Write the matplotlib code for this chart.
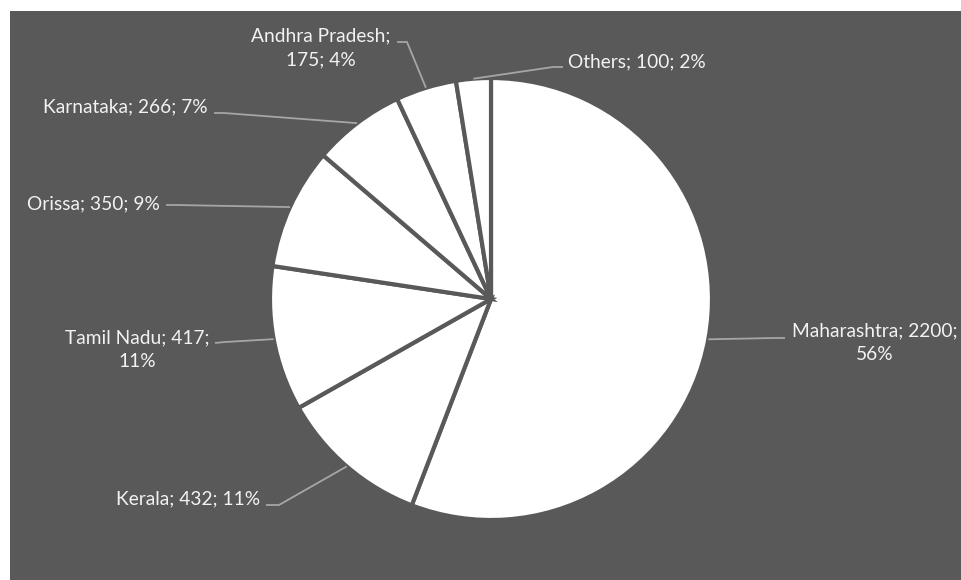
import numpy as np
import matplotlib.pyplot as plt

states = ["Maharashtra", "Kerala", "Tamil Nadu", "Orissa", "Karnataka",
          "Andhra Pradesh", "Others"]
counts = [2200, 432, 417, 350, 266, 175, 100]
percents = [56, 11, 11, 9, 7, 4, 2]

BG = "#595959"
LEADER = "#a6a6a6"
TXT = "#f2f2f2"

plt.rcParams["font.family"] = ["Lato", "DejaVu Sans"]

W, H = 962, 580
fig = plt.figure(figsize=(W / 100, H / 100), dpi=100, facecolor="white")
# panel area in pixel units, y measured upward from the bottom edge
ax = fig.add_axes([10 / W, 0, (W - 10) / W, 569 / H])
ax.set_facecolor(BG)
ax.set_axis_off()
ax.add_patch(plt.Rectangle((10, 0), W - 10, 569, color=BG, zorder=0))

cx, cy, r = 491, 281, 221
wedges, _ = ax.pie(counts, startangle=90, counterclock=False, center=(cx, cy),
                   radius=r, colors=["white"] * len(counts),
                   wedgeprops=dict(edgecolor=BG, linewidth=3))
ax.set_xlim(10, W)
ax.set_ylim(0, 569)
ax.set_aspect("equal")

# label text: (x, y, ha) and leader start/elbow points, all in pixels (y down)
labels = {
    "Maharashtra": dict(xy=(875, 343), ha="center", two=True,
                        path=[(785, 338), (775, 338)]),
    "Kerala": dict(xy=(260, 499), ha="right", two=False,
                   path=[(266, 505), (279, 505)]),
    "Tamil Nadu": dict(xy=(137, 350), ha="center", two=True,
                       path=[(215, 343), (225, 342)]),
    "Orissa": dict(xy=(160, 204), ha="right", two=False,
                   path=[(166, 205), (176, 205)]),
    "Karnataka": dict(xy=(208, 107), ha="right", two=False,
                      path=[(214, 113), (224, 113)]),
    "Andhra Pradesh": dict(xy=(321, 48), ha="center", two=True,
                           path=[(397, 42), (407, 42)]),
    "Others": dict(xy=(568, 62), ha="left", two=False,
                   path=[(563, 67), (553, 67)]),
}

for w, name, n, p in zip(wedges, states, counts, percents):
    mid = np.deg2rad((w.theta1 + w.theta2) / 2)
    ex, ey = cx + r * np.cos(mid), cy + r * np.sin(mid)
    spec = labels[name]
    xs = [pt[0] for pt in spec["path"]] + [ex]
    ys = [H - pt[1] for pt in spec["path"]] + [ey]
    ax.plot(xs, ys, color=LEADER, lw=1.3, zorder=3, solid_capstyle="butt")
    if spec["two"]:
        if name == "Tamil Nadu" or name == "Maharashtra":
            text = f"{name}; {n};\n{p}%"
        else:
            text = f"{name};\n{n}; {p}%"
    else:
        text = f"{name}; {n}; {p}%"
    x, y = spec["xy"]
    ax.text(x, H - y, text, ha=spec["ha"], va="center", multialignment="center",
            color=TXT, fontsize=13.8, linespacing=1.45, zorder=4)

fig.savefig("out.png", dpi=100, facecolor="white")
